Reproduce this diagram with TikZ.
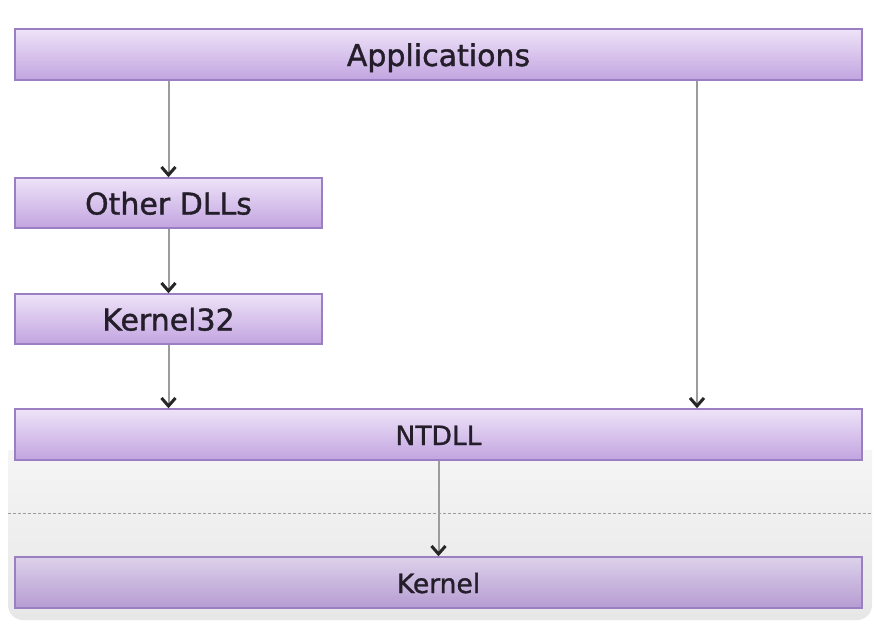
\documentclass[tikz,border=0pt]{standalone}
\usepackage{fontspec}
\setmainfont[FakeBold=1.2]{DejaVu Sans}
\usetikzlibrary{arrows.meta}
\definecolor{boxtop}{HTML}{EEE3F8}
\definecolor{boxbot}{HTML}{C2A4E0}
\definecolor{boxline}{HTML}{9A7FC2}
\definecolor{ktop}{HTML}{DCD1EA}
\definecolor{kbot}{HTML}{B69CD2}
\definecolor{txt}{HTML}{241E2A}
\definecolor{wire}{HTML}{9C9C9C}
\definecolor{greytop}{HTML}{F5F5F5}
\definecolor{greybot}{HTML}{E7E7E7}
\tikzset{
  layerbox/.style={draw=boxline, line width=1.5pt, top color=boxtop, bottom color=boxbot,
    inner sep=0pt, text=txt, font=\fontsize{30}{30}\selectfont, text depth=0pt, text height=23pt},
  widebox/.style={layerbox, minimum width=847pt, minimum height=51pt},
  narrowbox/.style={layerbox, minimum width=307pt, minimum height=50pt},
  smalltext/.style={font=\fontsize{26.5}{26.5}\selectfont, text height=21pt},
  kbox/.style={top color=ktop, bottom color=kbot},
  arr/.style={draw=wire, line width=2pt, -{Straight Barb[length=8pt,width=14pt,line width=3pt,color=black!85]}}
}
\begin{document}
\begin{tikzpicture}[x=1pt,y=-1pt]
\useasboundingbox (0,0) rectangle (886,640);
\fill[white] (0,0) rectangle (886,640);
% grey kernel-mode region
\shade[top color=greytop, bottom color=greybot]
  (8,450) -- (8,605) arc[start angle=180, end angle=270, radius=15pt] -- (857,620)
  arc[start angle=270, end angle=360, radius=15pt] -- (872,450) -- cycle;
\draw[wire, dash pattern=on 3pt off 2pt, line width=1pt] (8,513) -- (872,513);
% boxes
\node[widebox] (app) at (438.5,54.5) {Applications};
\node[narrowbox] (odll) at (168.5,203) {Other DLLs};
\node[narrowbox] (k32) at (168.5,319) {Kernel32};
\node[widebox, smalltext] (ntdll) at (438.5,434.5) {NTDLL};
\node[widebox, smalltext, kbox] (kern) at (438.5,582.5) {Kernel};
% connectors
\coordinate (rt) at (697,0);
\draw[arr] (odll.north |- app.south) -- (odll.north);
\draw[arr] (odll.south) -- (k32.north);
\draw[arr] (k32.south) -- (k32.south |- ntdll.north);
\draw[arr] (app.south -| rt) -- (ntdll.north -| rt);
\draw[arr] (ntdll.south) -- (kern.north);
\end{tikzpicture}
\end{document}
